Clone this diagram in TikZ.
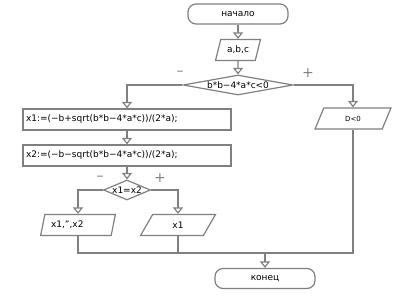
\documentclass[tikz,border=0pt]{standalone}
\usepackage{fontspec}
\setmainfont{DejaVu Sans}
\usetikzlibrary{shapes.geometric,arrows.meta}
\definecolor{linegray}{HTML}{808080}

\tikzset{
  base/.style={draw=linegray, line width=1.2pt, inner sep=1pt, text=black,
               font=\fontsize{9}{10.5}\selectfont},
  term/.style={base, rounded corners=8pt, minimum width=100pt, minimum height=20pt},
  io/.style={base, trapezium, trapezium left angle=70, trapezium right angle=110,
             trapezium stretches=true, minimum height=21pt},
  proc/.style={base, rectangle, minimum width=208pt, minimum height=21pt,
               text width=202pt, align=left},
  cond/.style={base, diamond, inner sep=0pt, minimum height=20pt},
  flow/.style={draw=linegray, line width=1.2pt,
               -{Triangle[open, fill=white, width=10pt, length=6.5pt]}},
  link/.style={draw=linegray, line width=1.2pt},
  sign/.style={text=linegray, font=\fontsize{14}{14}\selectfont}
}

\begin{document}
\begin{tikzpicture}[x=1pt, y=-1pt]
\useasboundingbox (0,0) rectangle (410,308);

% blocks
\node[term] (start) at (238,14) {начало};
\node[io, minimum width=45pt] (input) at (238,50) {a,b,c};
\node[cond, minimum width=110pt, shape aspect=5.5] (disc) at (238,85) {b*b−4*a*c<0};
\node[proc] (root1) at (127,119.5) {x1:=(−b+sqrt(b*b−4*a*c))/(2*a);};
\node[proc] (root2) at (127,155.5) {x2:=(−b−sqrt(b*b−4*a*c))/(2*a);};
\node[cond, minimum width=47pt, shape aspect=2.35] (same) at (127,190) {x1=x2};
\node[io, minimum width=75pt, text width=54pt, align=left] (outtwo) at (78,225) {x1,",x2};
\node[io, minimum width=75pt] (outone) at (178,225) {x1};
\node[io, minimum width=76pt, font=\fontsize{7}{8}\selectfont] (nosol) at (353,118.5) {D<0};
\node[term] (stop) at (265,278.5) {конец};
\coordinate (join) at (265,253);

% signs
\node[sign] (dminus) at (180,73) {–};
\node[sign] (dplus) at (308,73) {+};
\node[sign] (sminus) at (100,178) {–};
\node[sign] (splus) at (160,178) {+};

% connectors
\draw[flow] (start) -- (input);
\draw[flow] (input) -- (disc);
\draw[flow] (disc.west) -| (root1.north);
\draw[flow] (disc.east) -| (nosol.north);
\draw[flow] (root1) -- (root2);
\draw[flow] (root2) -- (same);
\draw[flow] (same.west) -| (outtwo.north);
\draw[flow] (same.east) -| (outone.north);
\draw[link] (outtwo.south) |- (nosol.south |- join) -- (nosol.south);
\draw[link] (outone.south) -- (outone.south |- join);
\draw[flow] (join) -- (stop);
\end{tikzpicture}
\end{document}
